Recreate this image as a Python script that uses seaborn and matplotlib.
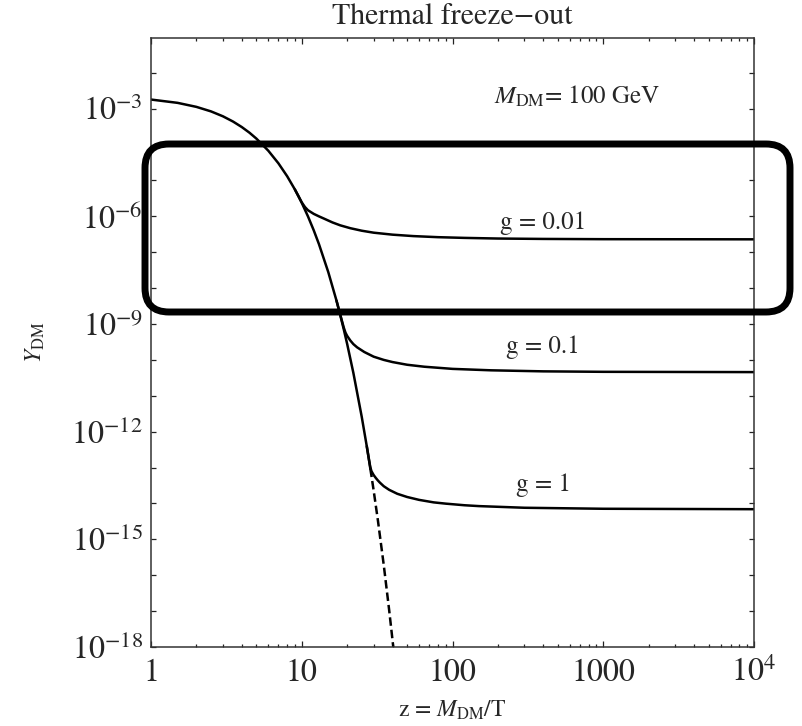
import numpy as np
import pandas as pd
import matplotlib
matplotlib.use("Agg")
import matplotlib.pyplot as plt
import seaborn as sns
from matplotlib.patches import FancyBboxPatch
from matplotlib.ticker import FixedLocator, NullLocator

# ---- data: z = M_DM / T and log10 of the comoving yield Y_DM ----
# equilibrium yield (solid part, shared by all couplings before freeze-out)
z_eq = [1, 1.5, 2, 2.5, 3, 3.5, 4, 4.5, 5, 6, 7, 8, 9, 10, 11, 12, 13, 15,
        17, 18, 19, 20, 22, 25, 27, 28, 28.5]
logy_eq = [-2.745, -2.837, -2.949, -3.075, -3.212, -3.358, -3.511, -3.669,
           -3.833, -4.171, -4.521, -4.881, -5.249, -5.623, -6.002, -6.385,
           -6.772, -7.555, -8.348, -8.748, -9.149, -9.552, -10.362, -11.586,
           -12.407, -12.818, -13.03]

# equilibrium yield continued (dashed) after the last freeze-out
z_eq_late = [28.5, 29, 30, 32, 35, 38, 40, 42]
logy_eq_late = [-13.03, -13.231, -13.644, -14.472, -15.719, -16.970,
                -17.806, -18.644]

# relic curves after departure from equilibrium
z_g001 = [9, 9.5, 10, 10.5, 11, 12, 13, 14, 16, 18, 21, 25, 30, 40, 55, 80,
          120, 200, 400, 1000, 10000]
logy_g001 = [-5.249, -5.43, -5.61, -5.74, -5.83, -5.93, -6.00, -6.06, -6.17,
             -6.25, -6.33, -6.40, -6.455, -6.51, -6.55, -6.58, -6.60, -6.618,
             -6.629, -6.636, -6.64]

z_g01 = [17, 18, 19, 19.5, 20, 21, 22, 23.3, 26, 30, 35, 40, 50, 65, 100,
         180, 400, 1000, 10000]
logy_g01 = [-8.348, -8.74, -9.10, -9.24, -9.33, -9.46, -9.56, -9.65, -9.78,
            -9.91, -10.00, -10.06, -10.135, -10.19, -10.25, -10.29, -10.319,
            -10.332, -10.34]

z_g1 = [27, 28, 28.5, 29, 30, 31, 32, 33, 35, 38, 43, 50, 60, 75, 90, 120,
        150, 300, 1000, 10000]
logy_g1 = [-12.407, -12.81, -12.99, -13.10, -13.21, -13.29, -13.36, -13.42,
           -13.52, -13.62, -13.73, -13.82, -13.90, -13.97, -14.005, -14.05,
           -14.074, -14.12, -14.148, -14.16]

couplings = ["g = 0.01", "g = 0.1", "g = 1"]
label_z = [396, 400, 400]
label_logy = [-6.18, -9.64, -13.48]

x_ticks = [1, 10, 100, 1000, 10000]
x_ticklabels = ["1", "10", "100", "1000", r"$10^4$"]
y_decades = list(range(-18, -1))

# ---- style ----
sns.set_theme(style="ticks")
plt.rcParams["font.family"] = ["STIXGeneral", "DejaVu Serif"]
plt.rcParams["mathtext.fontset"] = "stix"

fig = plt.figure(figsize=(8.02, 7.26), dpi=100)
ax = fig.add_axes([151 / 802, 1 - 647 / 726, (754 - 151) / 802, (647 - 38) / 726])
ax.set_xscale("log")
ax.set_yscale("log")


def frame(z, logy):
    return pd.DataFrame({"z": z, "Y": np.power(10.0, logy)})


LW = 1.8
solid = dict(color="black", linewidth=LW, estimator=None, sort=False)
sns.lineplot(data=frame(z_eq, logy_eq), x="z", y="Y", ax=ax, **solid)
for z, ly in [(z_g001, logy_g001), (z_g01, logy_g01), (z_g1, logy_g1)]:
    sns.lineplot(data=frame(z, ly), x="z", y="Y", ax=ax, **solid)
sns.lineplot(data=frame(z_eq_late, logy_eq_late), x="z", y="Y", ax=ax,
             color="black", linewidth=LW, estimator=None, sort=False,
             linestyle=(0, (3.4, 1.6)))

ax.set_xlim(1, 1e4)
ax.set_ylim(1e-18, 10 ** -1.03)
ax.set_xlabel("")
ax.set_ylabel("")

# ticks
ax.xaxis.set_major_locator(FixedLocator(x_ticks))
ax.xaxis.set_minor_locator(FixedLocator(
    [k * 10.0 ** d for d in range(0, 4) for k in range(2, 10)]))
ax.set_xticklabels(x_ticklabels)
ax.yaxis.set_major_locator(FixedLocator([10.0 ** e for e in y_decades]))
ax.yaxis.set_minor_locator(NullLocator())
ax.set_yticklabels([r"$10^{%d}$" % e if e % 3 == 0 else "" for e in y_decades])

ax.tick_params(which="both", direction="in", top=True, right=True,
               color="#222222", width=0.9)
ax.tick_params(axis="x", which="major", length=4.3, labelsize=23, pad=24.5)
ax.tick_params(axis="x", which="minor", length=2.5)
ax.tick_params(axis="y", which="major", length=3.6, labelsize=23, pad=6)
for t in ax.get_xticklabels():
    t.set_verticalalignment("baseline")

for s in ax.spines.values():
    s.set_color("#333333")
    s.set_linewidth(1.1)

# annotations
for txt, zx, ly in zip(couplings, label_z, label_logy):
    ax.text(zx, 10 ** ly, txt, ha="center", va="center", fontsize=18)
ax.text(667, 10 ** -2.67, r"$M_{\rm DM}$= 100 GeV", ha="center", va="center",
        fontsize=18)

fig.text(452 / 802, 1 - 17 / 726, "Thermal freeze\u2212out", ha="center",
         va="center", fontsize=21.5)
fig.text(452 / 802, 1 - 710 / 726, r"z = $M_{\rm DM}$/T", ha="center",
         va="center", fontsize=17)
fig.text(35 / 802, 1 - 342 / 726, r"$Y_{\rm DM}$", rotation=90, ha="center",
         va="center", fontsize=17)

# highlight frame around the g = 0.01 plateau
box = FancyBboxPatch((1.45, 4.14), 6.45, 1.68,
                     boxstyle="round,pad=0,rounding_size=0.24",
                     transform=fig.dpi_scale_trans, fill=False, linewidth=5,
                     edgecolor="black", clip_on=False, zorder=10)
fig.add_artist(box)

fig.savefig("out.png", dpi=100)
